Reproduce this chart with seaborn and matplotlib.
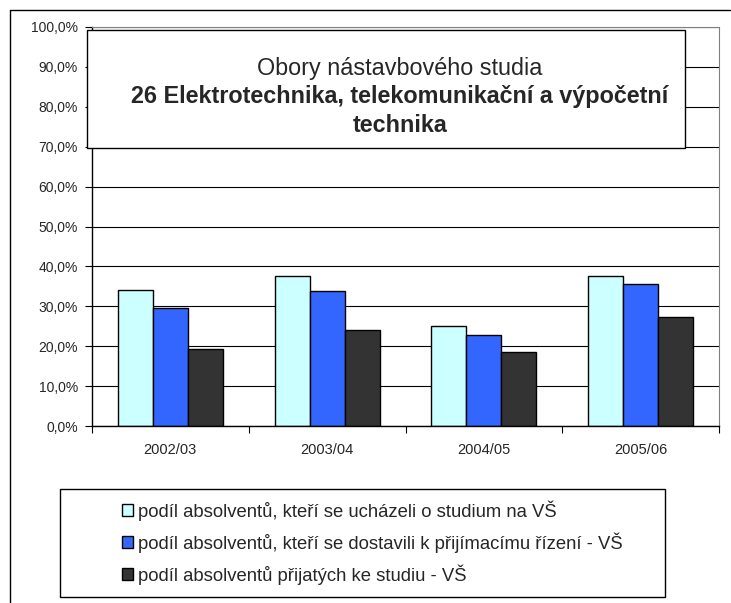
import pandas as pd
import matplotlib
matplotlib.use("Agg")
import matplotlib.pyplot as plt
import seaborn as sns
from matplotlib.patches import Rectangle
from matplotlib.ticker import FuncFormatter, FixedLocator

# data (percent)
roky = ["2002/03", "2003/04", "2004/05", "2005/06"]
uchazeli = [34.2, 37.7, 25.0, 37.7]
dostavili = [29.6, 33.9, 22.8, 35.7]
prijati = [19.3, 24.0, 18.6, 27.3]

serie = [
    "podíl absolventů, kteří se ucházeli o studium na VŠ",
    "podíl absolventů, kteří se dostavili k přijímacímu řízení - VŠ",
    "podíl absolventů přijatých ke studiu - VŠ",
]
barvy = ["#CCFFFF", "#3366FF", "#333333"]

df = pd.DataFrame({
    "rok": roky * 3,
    "hodnota": uchazeli + dostavili + prijati,
    "ukazatel": [serie[0]] * 4 + [serie[1]] * 4 + [serie[2]] * 4,
})

sns.set_style("white")
plt.rcParams["font.family"] = ["Liberation Sans", "DejaVu Sans"]

W, H = 731, 603
fig = plt.figure(figsize=(W / 100, H / 100), dpi=100)
ax = fig.add_axes([92 / W, 1 - 426 / H, (719 - 92) / W, (426 - 27) / H])

sns.barplot(data=df, x="rok", y="hodnota", hue="ukazatel", palette=barvy,
            saturation=1, edgecolor="black", linewidth=1, width=0.67,
            gap=0, ax=ax)
ax.get_legend().remove()

# axes styling
ax.set_ylim(0, 100)
ax.set_xlim(-0.5, 3.5)
ax.set_yticks(range(0, 101, 10))
ax.yaxis.set_major_formatter(FuncFormatter(lambda v, p: f"{v:.1f}%".replace(".", ",")))
ax.yaxis.grid(True, color="black", linewidth=0.8)
ax.set_axisbelow(True)
ax.set_xlabel("")
ax.set_ylabel("")
ax.tick_params(axis="y", direction="out", length=5, width=0.8, color="black",
               labelsize=10, pad=5, left=True)
ax.tick_params(axis="x", which="major", length=0, labelsize=10.5, pad=12)
ax.xaxis.set_minor_locator(FixedLocator([-0.5, 0.5, 1.5, 2.5, 3.5]))
ax.tick_params(axis="x", which="minor", direction="out", length=5, width=0.8,
               color="black", bottom=True)
for s in ["left", "bottom"]:
    ax.spines[s].set_color("black")
    ax.spines[s].set_linewidth(1)
for s in ["top", "right"]:
    ax.spines[s].set_color("#808080")
    ax.spines[s].set_linewidth(0.8)

# outer frame (left and top only visible)
fig.add_artist(plt.Line2D([10 / W, 10 / W], [0, 1 - 10 / H], color="black", lw=1,
                          transform=fig.transFigure))
fig.add_artist(plt.Line2D([10 / W, 730 / W], [1 - 10 / H, 1 - 10 / H], color="black",
                          lw=1, transform=fig.transFigure))

# title box
fig.add_artist(Rectangle((87 / W, 1 - 148 / H), (685 - 87) / W, (148 - 30) / H,
                         transform=fig.transFigure, facecolor="white",
                         edgecolor="black", lw=1, zorder=5))
cx = 400 / W
fig.text(cx, 1 - 68 / H, "Obory nástavbového studia", ha="center", va="center",
         fontsize=16.8, zorder=6)
fig.text(cx, 1 - 97 / H, "26 Elektrotechnika, telekomunikační a výpočetní",
         ha="center", va="center", fontsize=16.8, fontweight="bold", zorder=6)
fig.text(cx, 1 - 126 / H, "technika", ha="center", va="center", fontsize=16.8,
         fontweight="bold", zorder=6)

# legend box
fig.add_artist(Rectangle((60 / W, 1 - 597 / H), (665 - 60) / W, (597 - 489) / H,
                         transform=fig.transFigure, facecolor="white",
                         edgecolor="black", lw=1, zorder=1))
handles, labels = ax.get_legend_handles_labels()
fig.legend(handles, labels, loc="upper left",
           bbox_to_anchor=(113 / W, 1 - 491 / H), frameon=False,
           fontsize=13.3, handlelength=0.6, handleheight=0.6,
           handletextpad=0.25, labelspacing=0.62, borderpad=0)

fig.savefig("out.png", dpi=100)
